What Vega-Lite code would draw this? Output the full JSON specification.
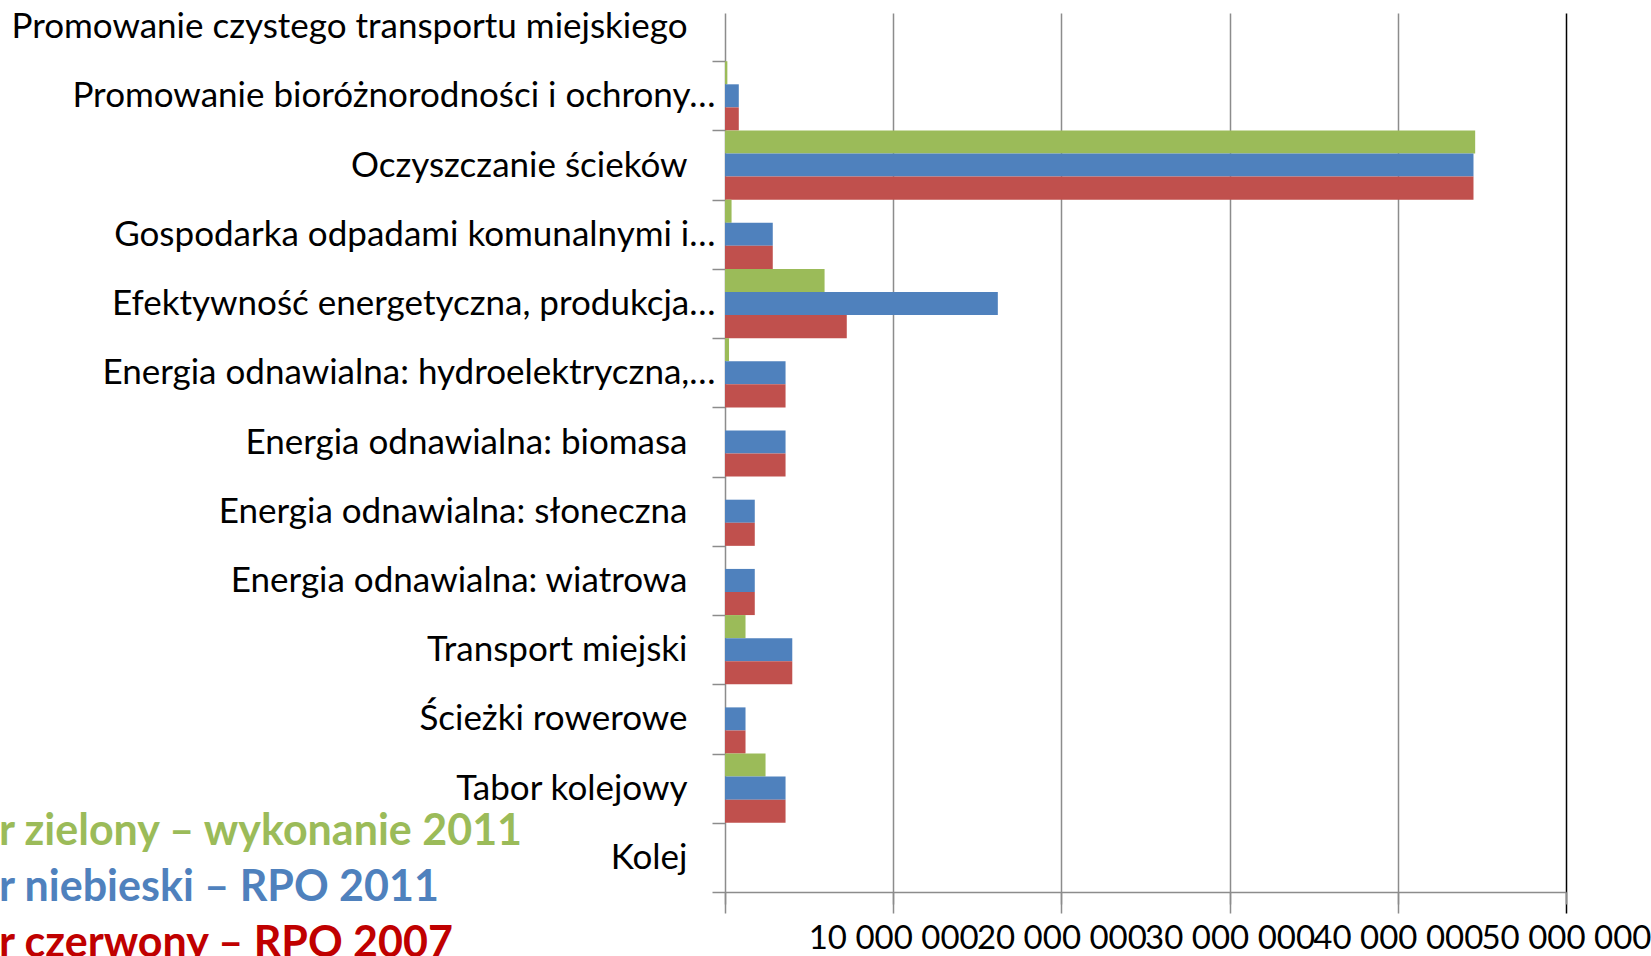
{
  "$schema": "https://vega.github.io/schema/vega-lite/v6.json",
  "width": 841,
  "height": 879,
  "autosize": {"type": "none"},
  "padding": {"left": 725, "top": 13, "right": 85, "bottom": 64},
  "background": "white",
  "config": {"view": {"stroke": null}, "font": "Lato"},
  "data": {
    "values": [
      {"kategoria": "Promowanie czystego transportu miejskiego", "seria": "r zielony – wykonanie 2011", "wartosc": 0},
      {"kategoria": "Promowanie czystego transportu miejskiego", "seria": "r niebieski – RPO 2011", "wartosc": 0},
      {"kategoria": "Promowanie czystego transportu miejskiego", "seria": "r czerwony – RPO 2007", "wartosc": 0},
      {"kategoria": "Promowanie bioróżnorodności i ochrony…", "seria": "r zielony – wykonanie 2011", "wartosc": 140000},
      {"kategoria": "Promowanie bioróżnorodności i ochrony…", "seria": "r niebieski – RPO 2011", "wartosc": 820000},
      {"kategoria": "Promowanie bioróżnorodności i ochrony…", "seria": "r czerwony – RPO 2007", "wartosc": 820000},
      {"kategoria": "Oczyszczanie ścieków", "seria": "r zielony – wykonanie 2011", "wartosc": 44600000},
      {"kategoria": "Oczyszczanie ścieków", "seria": "r niebieski – RPO 2011", "wartosc": 44500000},
      {"kategoria": "Oczyszczanie ścieków", "seria": "r czerwony – RPO 2007", "wartosc": 44500000},
      {"kategoria": "Gospodarka odpadami komunalnymi i…", "seria": "r zielony – wykonanie 2011", "wartosc": 390000},
      {"kategoria": "Gospodarka odpadami komunalnymi i…", "seria": "r niebieski – RPO 2011", "wartosc": 2840000},
      {"kategoria": "Gospodarka odpadami komunalnymi i…", "seria": "r czerwony – RPO 2007", "wartosc": 2840000},
      {"kategoria": "Efektywność energetyczna, produkcja…", "seria": "r zielony – wykonanie 2011", "wartosc": 5920000},
      {"kategoria": "Efektywność energetyczna, produkcja…", "seria": "r niebieski – RPO 2011", "wartosc": 16220000},
      {"kategoria": "Efektywność energetyczna, produkcja…", "seria": "r czerwony – RPO 2007", "wartosc": 7240000},
      {"kategoria": "Energia odnawialna: hydroelektryczna,…", "seria": "r zielony – wykonanie 2011", "wartosc": 240000},
      {"kategoria": "Energia odnawialna: hydroelektryczna,…", "seria": "r niebieski – RPO 2011", "wartosc": 3600000},
      {"kategoria": "Energia odnawialna: hydroelektryczna,…", "seria": "r czerwony – RPO 2007", "wartosc": 3600000},
      {"kategoria": "Energia odnawialna: biomasa", "seria": "r zielony – wykonanie 2011", "wartosc": 0},
      {"kategoria": "Energia odnawialna: biomasa", "seria": "r niebieski – RPO 2011", "wartosc": 3600000},
      {"kategoria": "Energia odnawialna: biomasa", "seria": "r czerwony – RPO 2007", "wartosc": 3600000},
      {"kategoria": "Energia odnawialna: słoneczna", "seria": "r zielony – wykonanie 2011", "wartosc": 0},
      {"kategoria": "Energia odnawialna: słoneczna", "seria": "r niebieski – RPO 2011", "wartosc": 1770000},
      {"kategoria": "Energia odnawialna: słoneczna", "seria": "r czerwony – RPO 2007", "wartosc": 1770000},
      {"kategoria": "Energia odnawialna: wiatrowa", "seria": "r zielony – wykonanie 2011", "wartosc": 0},
      {"kategoria": "Energia odnawialna: wiatrowa", "seria": "r niebieski – RPO 2011", "wartosc": 1770000},
      {"kategoria": "Energia odnawialna: wiatrowa", "seria": "r czerwony – RPO 2007", "wartosc": 1770000},
      {"kategoria": "Transport miejski", "seria": "r zielony – wykonanie 2011", "wartosc": 1220000},
      {"kategoria": "Transport miejski", "seria": "r niebieski – RPO 2011", "wartosc": 4000000},
      {"kategoria": "Transport miejski", "seria": "r czerwony – RPO 2007", "wartosc": 4000000},
      {"kategoria": "Ścieżki rowerowe", "seria": "r zielony – wykonanie 2011", "wartosc": 0},
      {"kategoria": "Ścieżki rowerowe", "seria": "r niebieski – RPO 2011", "wartosc": 1220000},
      {"kategoria": "Ścieżki rowerowe", "seria": "r czerwony – RPO 2007", "wartosc": 1220000},
      {"kategoria": "Tabor kolejowy", "seria": "r zielony – wykonanie 2011", "wartosc": 2410000},
      {"kategoria": "Tabor kolejowy", "seria": "r niebieski – RPO 2011", "wartosc": 3600000},
      {"kategoria": "Tabor kolejowy", "seria": "r czerwony – RPO 2007", "wartosc": 3600000},
      {"kategoria": "Kolej", "seria": "r zielony – wykonanie 2011", "wartosc": 0},
      {"kategoria": "Kolej", "seria": "r niebieski – RPO 2011", "wartosc": 0},
      {"kategoria": "Kolej", "seria": "r czerwony – RPO 2007", "wartosc": 0}
    ]
  },
  "mark": {"type": "bar"},
  "encoding": {
    "y": {
      "field": "kategoria",
      "type": "nominal",
      "sort": null,
      "scale": {"range": [-21, 879], "paddingInner": 0, "paddingOuter": 0},
      "axis": {
        "title": null,
        "domain": false,
        "grid": false,
        "tickBand": "extent",
        "tickSize": 13,
        "tickColor": "#8c8c8c",
        "tickWidth": 1.5,
        "labelFont": "Lato",
        "labelFontSize": 35,
        "labelColor": "#000000",
        "labelLimit": 0,
        "labelPadding": 25,
        "encoding": {
          "labels": {
            "dx": {"condition": {"test": "indexof('' + datum.value, '…') >= 0", "value": 28}, "value": 0}
          }
        }
      }
    },
    "yOffset": {
      "field": "seria",
      "type": "nominal",
      "sort": ["r zielony – wykonanie 2011", "r niebieski – RPO 2011", "r czerwony – RPO 2007"],
      "scale": {"paddingInner": 0, "paddingOuter": 0}
    },
    "x": {
      "field": "wartosc",
      "type": "quantitative",
      "scale": {"domain": [0, 50000000], "nice": false},
      "axis": {
        "title": null,
        "values": [0, 10000000, 20000000, 30000000, 40000000, 50000000],
        "grid": true,
        "gridColor": {"condition": {"test": "datum.value === 50000000", "value": "#000000"}, "value": "#8c8c8c"},
        "gridWidth": 1.5,
        "tickSize": 12,
        "tickColor": "#8c8c8c",
        "tickWidth": 1.5,
        "domainColor": "#8c8c8c",
        "domainWidth": 1.5,
        "labelExpr": "datum.value === 0 ? '' : format(datum.value / 1000000, 'd') + ' 000 000'",
        "labelFont": "Lato",
        "labelFontSize": 33,
        "labelColor": "#000000",
        "labelOverlap": false,
        "labelFlush": false,
        "labelBound": false,
        "labelPadding": 18
      }
    },
    "color": {
      "field": "seria",
      "type": "nominal",
      "scale": {
        "domain": ["r zielony – wykonanie 2011", "r niebieski – RPO 2011", "r czerwony – RPO 2007"],
        "range": ["#9BBB59", "#4F81BD", "#C0504D"]
      },
      "legend": {
        "orient": "none",
        "legendX": -769,
        "legendY": 797,
        "title": null,
        "padding": 0,
        "symbolSize": 0,
        "symbolOpacity": 0,
        "symbolStrokeWidth": 0,
        "labelOffset": 0,
        "labelFont": "Lato",
        "labelFontWeight": "bold",
        "labelFontSize": 43,
        "labelLimit": 0,
        "rowPadding": 12,
        "encoding": {
          "labels": {
            "fill": {
              "condition": [
                {"test": "indexof('' + datum.label, 'zielony') >= 0", "value": "#9BBB59"},
                {"test": "indexof('' + datum.label, 'niebieski') >= 0", "value": "#4F81BD"}
              ],
              "value": "#C00000"
            }
          }
        }
      }
    }
  }
}
